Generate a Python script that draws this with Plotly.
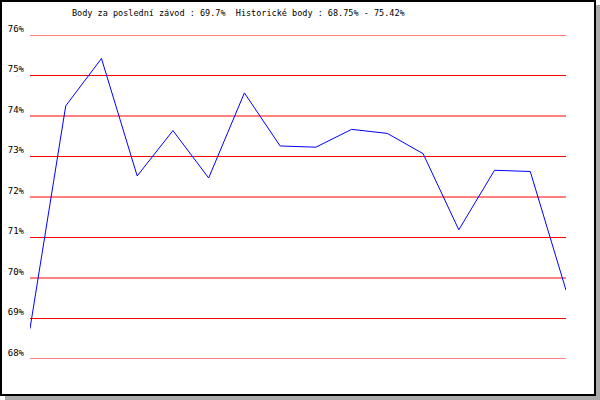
import plotly.graph_objects as go

# Data
races = list(range(1, 17))
points = [68.75, 74.25, 75.42, 72.52, 73.64, 72.47, 74.57, 73.26,
          73.23, 73.67, 73.57, 73.07, 71.19, 72.66, 72.63, 69.70]
tick_vals = [68, 69, 70, 71, 72, 73, 74, 75, 76]
tick_text = ["68%", "69%", "70%", "71%", "72%", "73%", "74%", "75%", "76%"]
title_text = "Body za poslední závod : 69.7%  Historické body : 68.75% - 75.42%"

W, H = 600, 400
L, R, T, B = 30, 34, 35, 41
PW, PH = W - L - R, H - T - B


def px(x):
    return (x - L) / PW


def py(y):
    return (H - B - y) / PH


fig = go.Figure()
fig.add_trace(go.Scatter(
    x=races, y=points, mode="lines",
    line=dict(color="#0000ff", width=1),
    hoverinfo="skip", showlegend=False, cliponaxis=False,
))

shapes = [
    dict(type="rect", xref="paper", yref="paper", layer="below",
         x0=px(5), x1=px(600), y0=py(5), y1=py(400),
         fillcolor="#aaaaaa", line=dict(width=0)),
    dict(type="rect", xref="paper", yref="paper", layer="below",
         x0=px(1), x1=px(595), y0=py(1), y1=py(395),
         fillcolor="white", line=dict(color="black", width=2)),
]
# horizontal grid lines at each tick value
for v in tick_vals:
    shapes.append(dict(type="line", xref="paper", yref="y", layer="below",
                       x0=0, x1=1, y0=v, y1=v,
                       line=dict(color="#ff0000", width=1)))

fig.update_layout(
    width=W, height=H,
    margin=dict(l=L, r=R, t=T, b=B, pad=0, autoexpand=False),
    paper_bgcolor="white",
    plot_bgcolor="rgba(0,0,0,0)",
    shapes=shapes,
    showlegend=False,
    title=dict(text=title_text, x=72 / W, xref="container", xanchor="left",
               y=1 - 13 / H, yref="container", yanchor="middle",
               font=dict(family="DejaVu Sans Mono", size=8.5, color="black")),
    xaxis=dict(range=[races[0], races[-1]], showgrid=False, zeroline=False,
               showline=False, showticklabels=False, ticks="", automargin=False),
    yaxis=dict(range=[tick_vals[0], tick_vals[-1]], tickvals=tick_vals,
               ticktext=tick_text, showgrid=False, zeroline=False,
               showline=False, ticks="", automargin=False,
               ticklabelposition="outside top", ticklabelstandoff=5,
               tickfont=dict(family="DejaVu Sans Mono", size=9, color="black")),
)

fig.write_html("out.html",
               config={"displayModeBar": False, "staticPlot": True},
               post_script="document.body.style.margin='0';document.body.style.overflow='hidden';")
